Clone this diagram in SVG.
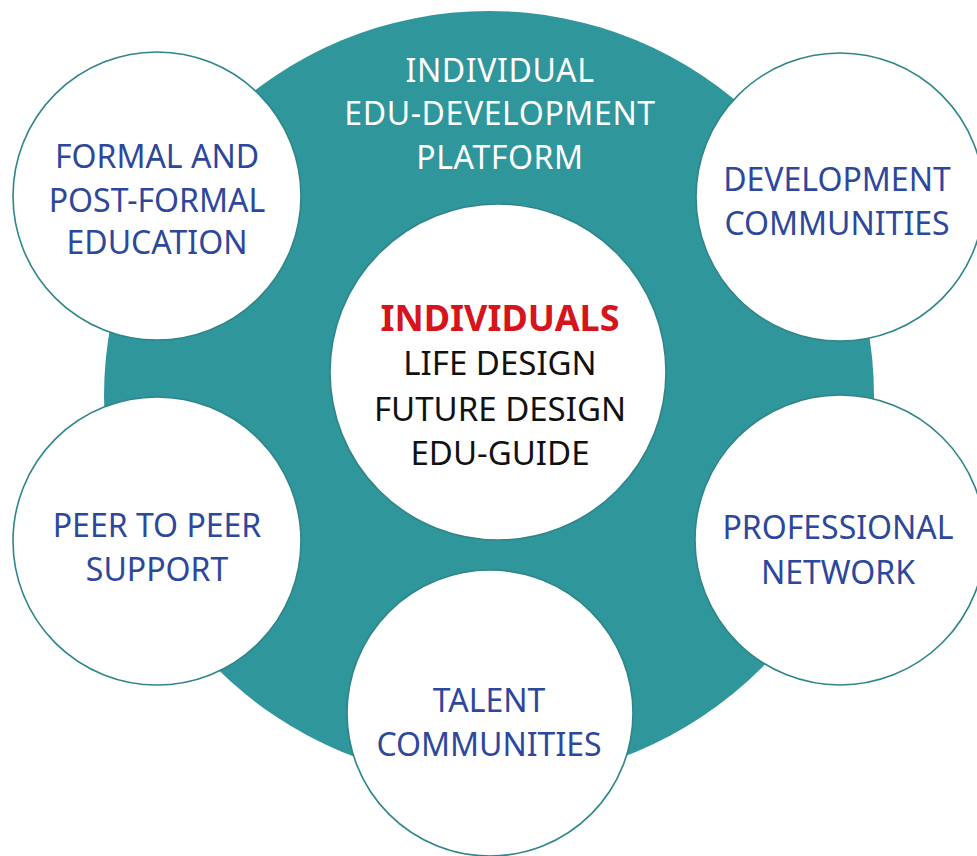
<svg xmlns="http://www.w3.org/2000/svg" width="977" height="856" viewBox="0 0 977 856">
<style>
.bg{fill:#2f969b}
.node{fill:#ffffff;stroke:#2f8589;stroke-width:1.6}
.t{font-family:"Noto Sans","Open Sans",sans-serif;font-size:32px;text-anchor:middle}
.blue{fill:#2c479c}
.white{fill:#ffffff;letter-spacing:0.6px}
.black{fill:#111111;font-size:33px}
.red{fill:#d5141b;font-weight:bold;font-size:36px}
</style>
<rect width="977" height="856" fill="#ffffff"/>
<g id="platform">
<circle class="bg" cx="489" cy="396" r="385"/>
<text class="t white"><tspan x="500" y="82">INDIVIDUAL</tspan><tspan x="500" y="125">EDU-DEVELOPMENT</tspan><tspan x="500" y="169">PLATFORM</tspan></text>
</g>
<g id="connectors"></g>
<g id="formal">
<circle class="node" cx="157" cy="196" r="144"/>
<text class="t blue"><tspan x="157" y="168">FORMAL AND</tspan><tspan x="157" y="212">POST-FORMAL</tspan><tspan x="157" y="254">EDUCATION</tspan></text>
</g>
<g id="development">
<circle class="node" cx="840" cy="197" r="144"/>
<text class="t blue"><tspan x="837" y="191">DEVELOPMENT</tspan><tspan x="837" y="235">COMMUNITIES</tspan></text>
</g>
<g id="peer">
<circle class="node" cx="157" cy="541" r="144"/>
<text class="t blue"><tspan x="157" y="537">PEER TO PEER</tspan><tspan x="157" y="581">SUPPORT</tspan></text>
</g>
<g id="professional">
<circle class="node" cx="840" cy="540" r="145"/>
<text class="t blue"><tspan x="838" y="539">PROFESSIONAL</tspan><tspan x="838" y="584">NETWORK</tspan></text>
</g>
<g id="talent">
<circle class="node" cx="490" cy="713" r="143"/>
<text class="t blue"><tspan x="489" y="712">TALENT</tspan><tspan x="489" y="756">COMMUNITIES</tspan></text>
</g>
<g id="individuals">
<circle class="node" cx="498" cy="372" r="168"/>
<text class="t red" x="500" y="331">INDIVIDUALS</text>
<text class="t black"><tspan x="500" y="375">LIFE DESIGN</tspan><tspan x="500" y="421">FUTURE DESIGN</tspan><tspan x="500" y="465">EDU-GUIDE</tspan></text>
</g>
</svg>
